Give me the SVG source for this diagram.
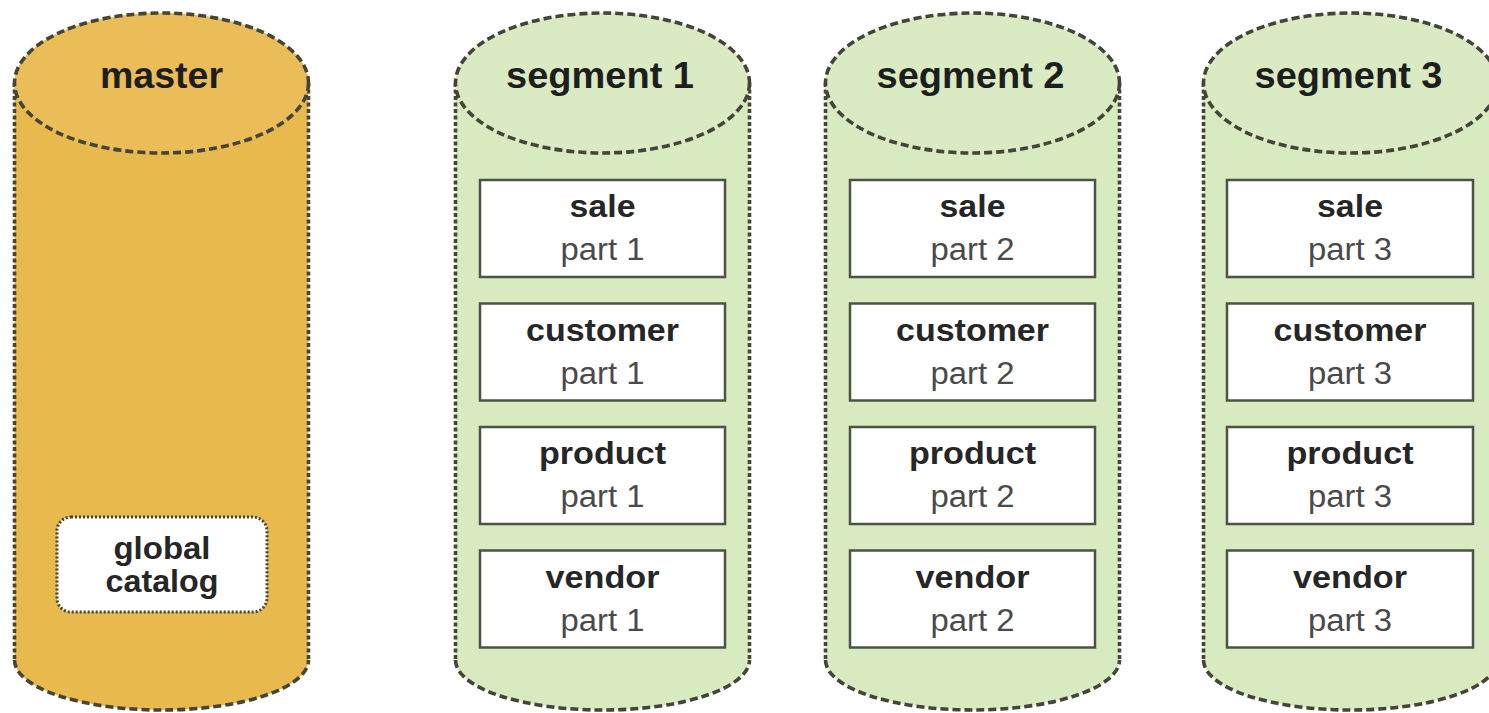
<svg xmlns="http://www.w3.org/2000/svg" width="1489" height="713" viewBox="0 0 1489 713">
  <style>
    .body-m { fill: #E8B94C; }
    .body-s { fill: #D8EABF; }
    .side { fill: none; stroke: #44443a; stroke-width: 3.6; stroke-dasharray: 4 2.5; }
    .edge { fill: none; stroke: #44443a; stroke-width: 3.6; stroke-dasharray: 8 4; }
    .title { font-family: "Liberation Sans", Arial, sans-serif; font-weight: bold; font-size: 36px; fill: #1e1e1e; text-anchor: middle; }
    .box { fill: #ffffff; stroke: #4a5344; stroke-width: 2.5; }
    .bt { font-family: "Liberation Sans", Arial, sans-serif; font-weight: bold; font-size: 32px; fill: #262626; text-anchor: middle; }
    .pt { font-family: "Liberation Sans", Arial, sans-serif; font-size: 31px; fill: #4a4a4a; text-anchor: middle; }
    .gc { fill: #ffffff; stroke: #44443a; stroke-width: 3; stroke-dasharray: 2 2; }
  </style>

  <g id="master">
    <path class="body-m" d="M14.5,83 L14.5,660 A147,50 0 0 0 308.5,660 L308.5,83 A147,70 0 0 0 14.5,83 Z"/>
    <path class="side" d="M14.5,83 L14.5,660 M308.5,83 L308.5,660"/>
    <path class="edge" d="M14.5,660 A147,50 0 0 0 308.5,660"/>
    <ellipse class="edge" cx="161.5" cy="83" rx="147" ry="70" style="fill:#EABD58"/>
    <text class="title" x="161.5" y="88" textLength="123" lengthAdjust="spacingAndGlyphs">master</text>
    <g id="global-catalog">
      <rect class="gc" x="57" y="517" width="210" height="95" rx="14"/>
      <text class="bt" x="162" y="559" textLength="97" lengthAdjust="spacingAndGlyphs" font-size="31">global</text>
      <text class="bt" x="162" y="592" textLength="113" lengthAdjust="spacingAndGlyphs" font-size="31">catalog</text>
    </g>
  </g>

  <g id="segment1">
    <path class="body-s" d="M455.5,83 L455.5,660 A147,50 0 0 0 749.5,660 L749.5,83 A147,70 0 0 0 455.5,83 Z"/>
    <path class="side" d="M455.5,83 L455.5,660 M749.5,83 L749.5,660"/>
    <path class="edge" d="M455.5,660 A147,50 0 0 0 749.5,660"/>
    <ellipse class="edge" cx="602.5" cy="83" rx="147" ry="70" style="fill:#DAEBC3"/>
    <text class="title" x="600" y="88" textLength="188" lengthAdjust="spacingAndGlyphs">segment 1</text>
    <g id="s1-sale"><rect class="box" x="480" y="180" width="245" height="97"/>
      <text class="bt" x="602.5" y="217" textLength="66" lengthAdjust="spacingAndGlyphs">sale</text>
      <text class="pt" x="602.5" y="260" textLength="84" lengthAdjust="spacingAndGlyphs">part 1</text></g>
    <g id="s1-customer"><rect class="box" x="480" y="303.5" width="245" height="97"/>
      <text class="bt" x="602.5" y="340.5" textLength="153" lengthAdjust="spacingAndGlyphs">customer</text>
      <text class="pt" x="602.5" y="383.5" textLength="84" lengthAdjust="spacingAndGlyphs">part 1</text></g>
    <g id="s1-product"><rect class="box" x="480" y="427" width="245" height="97"/>
      <text class="bt" x="602.5" y="464" textLength="127" lengthAdjust="spacingAndGlyphs">product</text>
      <text class="pt" x="602.5" y="507" textLength="84" lengthAdjust="spacingAndGlyphs">part 1</text></g>
    <g id="s1-vendor"><rect class="box" x="480" y="550.5" width="245" height="97"/>
      <text class="bt" x="602.5" y="587.5" textLength="114" lengthAdjust="spacingAndGlyphs">vendor</text>
      <text class="pt" x="602.5" y="630.5" textLength="84" lengthAdjust="spacingAndGlyphs">part 1</text></g>
  </g>

  <g id="segment2">
    <path class="body-s" d="M825.5,83 L825.5,660 A147,50 0 0 0 1119.5,660 L1119.5,83 A147,70 0 0 0 825.5,83 Z"/>
    <path class="side" d="M825.5,83 L825.5,660 M1119.5,83 L1119.5,660"/>
    <path class="edge" d="M825.5,660 A147,50 0 0 0 1119.5,660"/>
    <ellipse class="edge" cx="972.5" cy="83" rx="147" ry="70" style="fill:#DAEBC3"/>
    <text class="title" x="970.5" y="88" textLength="188" lengthAdjust="spacingAndGlyphs">segment 2</text>
    <g id="s2-sale"><rect class="box" x="850" y="180" width="245" height="97"/>
      <text class="bt" x="972.5" y="217" textLength="66" lengthAdjust="spacingAndGlyphs">sale</text>
      <text class="pt" x="972.5" y="260" textLength="84" lengthAdjust="spacingAndGlyphs">part 2</text></g>
    <g id="s2-customer"><rect class="box" x="850" y="303.5" width="245" height="97"/>
      <text class="bt" x="972.5" y="340.5" textLength="153" lengthAdjust="spacingAndGlyphs">customer</text>
      <text class="pt" x="972.5" y="383.5" textLength="84" lengthAdjust="spacingAndGlyphs">part 2</text></g>
    <g id="s2-product"><rect class="box" x="850" y="427" width="245" height="97"/>
      <text class="bt" x="972.5" y="464" textLength="127" lengthAdjust="spacingAndGlyphs">product</text>
      <text class="pt" x="972.5" y="507" textLength="84" lengthAdjust="spacingAndGlyphs">part 2</text></g>
    <g id="s2-vendor"><rect class="box" x="850" y="550.5" width="245" height="97"/>
      <text class="bt" x="972.5" y="587.5" textLength="114" lengthAdjust="spacingAndGlyphs">vendor</text>
      <text class="pt" x="972.5" y="630.5" textLength="84" lengthAdjust="spacingAndGlyphs">part 2</text></g>
  </g>

  <g id="segment3">
    <path class="body-s" d="M1203.5,83 L1203.5,660 A147,50 0 0 0 1497.5,660 L1497.5,83 A147,70 0 0 0 1203.5,83 Z"/>
    <path class="side" d="M1203.5,83 L1203.5,660 M1497.5,83 L1497.5,660"/>
    <path class="edge" d="M1203.5,660 A147,50 0 0 0 1497.5,660"/>
    <ellipse class="edge" cx="1350.5" cy="83" rx="147" ry="70" style="fill:#DAEBC3"/>
    <text class="title" x="1348.5" y="88" textLength="188" lengthAdjust="spacingAndGlyphs">segment 3</text>
    <g id="s3-sale"><rect class="box" x="1227" y="180" width="246" height="97"/>
      <text class="bt" x="1350" y="217" textLength="66" lengthAdjust="spacingAndGlyphs">sale</text>
      <text class="pt" x="1350" y="260" textLength="84" lengthAdjust="spacingAndGlyphs">part 3</text></g>
    <g id="s3-customer"><rect class="box" x="1227" y="303.5" width="246" height="97"/>
      <text class="bt" x="1350" y="340.5" textLength="153" lengthAdjust="spacingAndGlyphs">customer</text>
      <text class="pt" x="1350" y="383.5" textLength="84" lengthAdjust="spacingAndGlyphs">part 3</text></g>
    <g id="s3-product"><rect class="box" x="1227" y="427" width="246" height="97"/>
      <text class="bt" x="1350" y="464" textLength="127" lengthAdjust="spacingAndGlyphs">product</text>
      <text class="pt" x="1350" y="507" textLength="84" lengthAdjust="spacingAndGlyphs">part 3</text></g>
    <g id="s3-vendor"><rect class="box" x="1227" y="550.5" width="246" height="97"/>
      <text class="bt" x="1350" y="587.5" textLength="114" lengthAdjust="spacingAndGlyphs">vendor</text>
      <text class="pt" x="1350" y="630.5" textLength="84" lengthAdjust="spacingAndGlyphs">part 3</text></g>
  </g>

  <g id="connectors"/>
</svg>
